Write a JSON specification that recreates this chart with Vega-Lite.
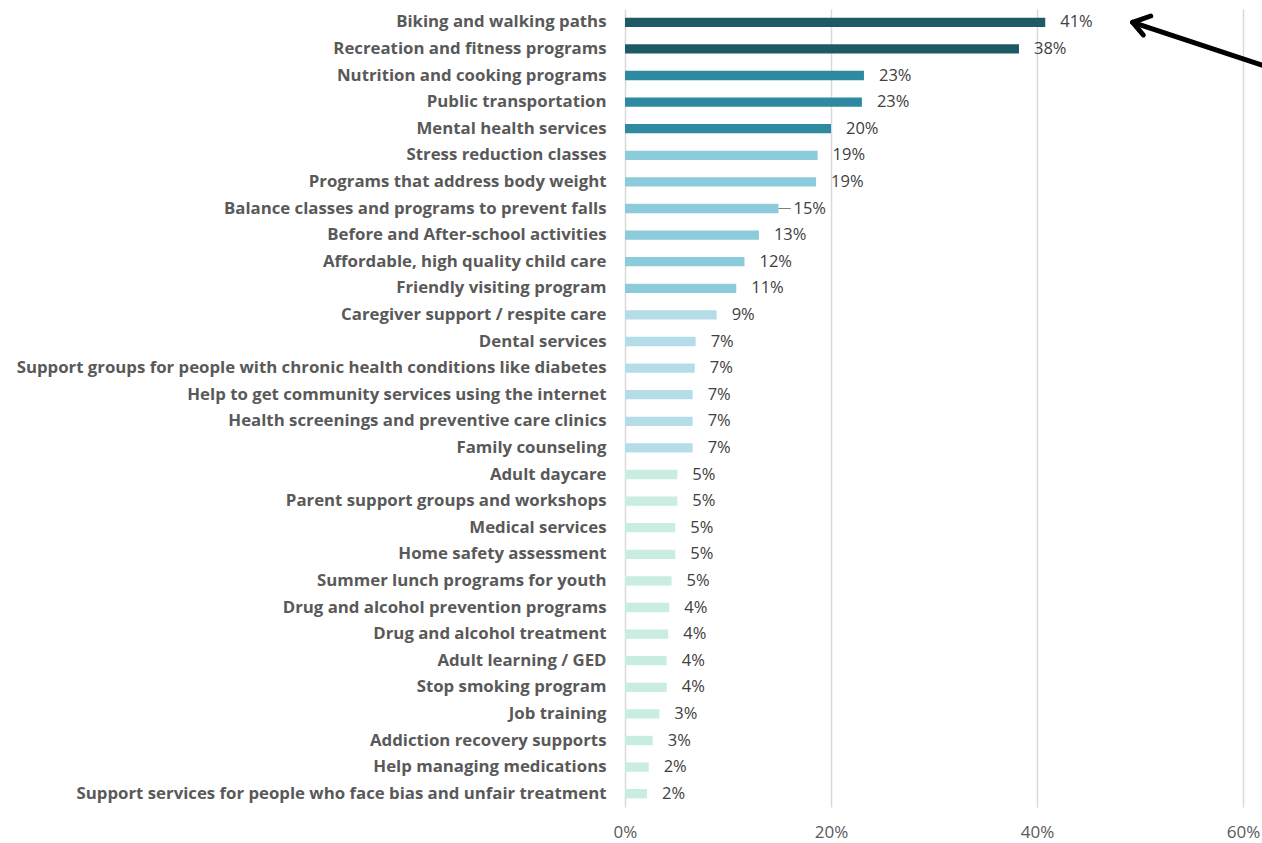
{
  "$schema": "https://vega.github.io/schema/vega-lite/v6.json",
  "width": 618,
  "height": 798,
  "autosize": {"type": "none"},
  "padding": {"left": 625, "top": 9, "right": 19, "bottom": 36},
  "background": "white",
  "config": {"view": {"stroke": null}, "font": "Open Sans"},
  "datasets": {
    "items": [
      {"item": "Biking and walking paths", "share": 0.408, "tier": "1"},
      {"item": "Recreation and fitness programs", "share": 0.3825, "tier": "1"},
      {"item": "Nutrition and cooking programs", "share": 0.232, "tier": "2"},
      {"item": "Public transportation", "share": 0.23, "tier": "2"},
      {"item": "Mental health services", "share": 0.2, "tier": "2"},
      {"item": "Stress reduction classes", "share": 0.187, "tier": "3"},
      {"item": "Programs that address body weight", "share": 0.1855, "tier": "3"},
      {"item": "Balance classes and programs to prevent falls", "share": 0.149, "tier": "3"},
      {"item": "Before and After-school activities", "share": 0.13, "tier": "3"},
      {"item": "Affordable, high quality child care", "share": 0.116, "tier": "3"},
      {"item": "Friendly visiting program", "share": 0.108, "tier": "3"},
      {"item": "Caregiver support / respite care", "share": 0.089, "tier": "4"},
      {"item": "Dental services", "share": 0.0686, "tier": "4"},
      {"item": "Support groups for people with chronic health conditions like diabetes", "share": 0.0677, "tier": "4"},
      {"item": "Help to get community services using the internet", "share": 0.0657, "tier": "4"},
      {"item": "Health screenings and preventive care clinics", "share": 0.0657, "tier": "4"},
      {"item": "Family counseling", "share": 0.0657, "tier": "4"},
      {"item": "Adult daycare", "share": 0.0508, "tier": "5"},
      {"item": "Parent support groups and workshops", "share": 0.0508, "tier": "5"},
      {"item": "Medical services", "share": 0.0488, "tier": "5"},
      {"item": "Home safety assessment", "share": 0.0488, "tier": "5"},
      {"item": "Summer lunch programs for youth", "share": 0.0452, "tier": "5"},
      {"item": "Drug and alcohol prevention programs ", "share": 0.043, "tier": "5"},
      {"item": "Drug and alcohol treatment", "share": 0.042, "tier": "5"},
      {"item": "Adult learning / GED", "share": 0.0405, "tier": "5"},
      {"item": "Stop smoking program", "share": 0.0405, "tier": "5"},
      {"item": "Job training", "share": 0.0333, "tier": "5"},
      {"item": "Addiction recovery supports", "share": 0.0269, "tier": "5"},
      {"item": "Help managing medications", "share": 0.023, "tier": "5"},
      {"item": "Support services for people who face bias and unfair treatment", "share": 0.0214, "tier": "5"}
    ],
    "errbar": [
      {"item": "Balance classes and programs to prevent falls", "lo": 0.149, "hi": 0.161}
    ],
    "arrow": [
      {"x1": 0.631, "y1": 2.27, "x2": 0.4929, "y2": 0.5},
      {"x1": 0.5104, "y1": 0.263, "x2": 0.4929, "y2": 0.5},
      {"x1": 0.5032, "y1": 0.977, "x2": 0.4929, "y2": 0.5}
    ]
  },
  "resolve": {"scale": {"y": "independent"}},
  "layer": [
    {
      "layer": [
        {
          "data": {"name": "items"},
          "mark": {"type": "bar"},
          "encoding": {
            "y": {
              "field": "item", "type": "nominal", "sort": null,
              "scale": {"paddingInner": 0.65, "paddingOuter": 0.325},
              "axis": {
                "title": null, "ticks": false, "domain": false,
                "labelFont": "Open Sans", "labelFontWeight": "bold", "labelFontSize": 16.8,
                "labelColor": "#595959", "labelPadding": 19, "labelLimit": 700
              }
            },
            "x": {
              "field": "share", "type": "quantitative",
              "scale": {"domain": [0, 0.6], "nice": false},
              "axis": {
                "title": null, "format": ".0%", "values": [0, 0.2, 0.4, 0.6],
                "ticks": false, "domain": false, "grid": true,
                "gridColor": "#d9d9d9", "gridWidth": 1.5,
                "labelFont": "Open Sans", "labelFontSize": 17, "labelColor": "#595959",
                "labelPadding": 17, "labelFlush": false, "labelOverlap": false
              }
            },
            "color": {
              "field": "tier", "type": "nominal", "legend": null,
              "scale": {"domain": ["1", "2", "3", "4", "5"],
                        "range": ["#1e5a66", "#2e8aa0", "#8ccbdc", "#b5dde9", "#c9ece3"]}
            }
          }
        },
        {
          "data": {"name": "errbar"},
          "mark": {"type": "rule", "color": "#7f7f7f", "strokeWidth": 1},
          "encoding": {
            "y": {"field": "item", "type": "nominal", "sort": null},
            "x": {"field": "lo", "type": "quantitative"},
            "x2": {"field": "hi"}
          }
        },
        {
          "data": {"name": "items"},
          "mark": {"type": "text", "align": "left", "baseline": "middle", "dx": 15, "fontSize": 16.5, "font": "Open Sans", "color": "#404040"},
          "encoding": {
            "y": {"field": "item", "type": "nominal", "sort": null},
            "x": {"field": "share", "type": "quantitative"},
            "text": {"field": "share", "type": "quantitative", "format": ".0%"}
          }
        }
      ]
    },
    {
      "data": {"name": "arrow"},
      "mark": {"type": "rule", "color": "#000000", "strokeWidth": 5, "strokeCap": "round", "clip": false},
      "encoding": {
        "x": {"field": "x1", "type": "quantitative"},
        "x2": {"field": "x2"},
        "y": {"field": "y1", "type": "quantitative", "scale": {"domain": [0, 30], "nice": false, "zero": false, "reverse": true}, "axis": null},
        "y2": {"field": "y2"}
      }
    }
  ]
}
